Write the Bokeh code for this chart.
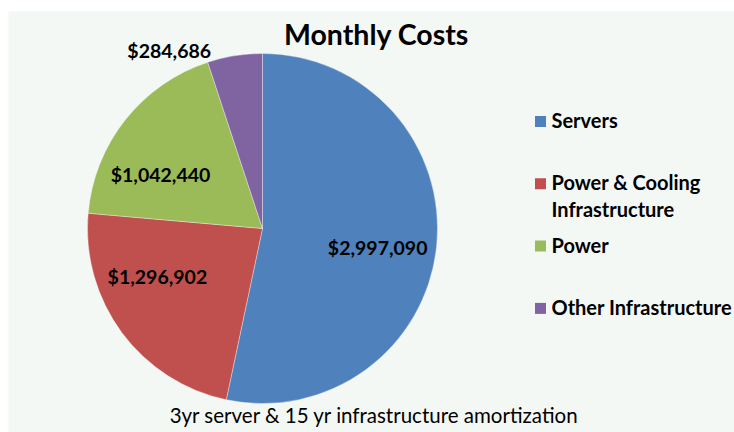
import math
from bokeh.plotting import figure
from bokeh.models import Range1d, ColumnDataSource
from bokeh.core.properties import value
from bokeh.embed import file_html
from bokeh.resources import INLINE

# ---- data ----
categories = ["Servers", "Power & Cooling\nInfrastructure", "Power", "Other Infrastructure"]
costs = [2997090, 1296902, 1042440, 284686]
colors = ["#4F81BD", "#C0504D", "#9BBB59", "#8064A2"]
title_text = "Monthly Costs"
subtitle_text = "3yr server & 15 yr infrastructure amortization"

# ---- layout constants (screen-like units, 1 unit = 1 px) ----
W, H = 734, 432
LEFT, TOP = 8, 11
FW, FH = W - LEFT, H - TOP
def sx(x): return x - LEFT
def sy(y): return FH - (y - TOP)

CX, CY, R = sx(262), sy(228), 175
label_r = [0.667, 0.66, 0.66, 1.15]
label_nudge = [-3.4, -12.0, 10.4, 18.5]   # degrees
FONT = "Lato"

p = figure(width=W, height=H, output_backend="svg", toolbar_location=None,
           x_range=Range1d(0, FW), y_range=Range1d(0, FH),
           min_border_left=LEFT, min_border_top=TOP, min_border_right=0, min_border_bottom=0)
p.axis.visible = False
p.grid.visible = False
p.outline_line_color = None
p.border_fill_color = "white"
p.background_fill_color = "#F4F8F4"

total = float(sum(costs))
starts, ends, mids = [], [], []
acc = 0.0
for v in costs:
    a0 = math.pi / 2 - acc / total * 2 * math.pi
    acc += v
    a1 = math.pi / 2 - acc / total * 2 * math.pi
    starts.append(a0); ends.append(a1); mids.append((a0 + a1) / 2)

src = ColumnDataSource(dict(start=starts, end=ends, color=colors))
p.wedge(x=CX, y=CY, radius=R, start_angle="start", end_angle="end", direction="clock",
        fill_color="color", line_color="white", line_width=0.5, line_alpha=0.7, source=src)

# data labels
lx, ly, lt = [], [], []
for i, v in enumerate(costs):
    a = mids[i] + math.radians(label_nudge[i])
    lx.append(CX + label_r[i] * R * math.cos(a))
    ly.append(CY + label_r[i] * R * math.sin(a))
    lt.append("${:,}".format(v))
p.text(x=lx, y=ly, text=lt, text_font=value(FONT), text_font_style="bold",
       text_font_size="19.5px", text_align="center", text_baseline="middle", text_color="black")

# legend
LEG_X, LEG_Y0, LEG_DY, LINE_H = sx(540), sy(120.5), 62.3, 27
sqx, sqy, tx, ty, tt = [], [], [], [], []
for i, c in enumerate(categories):
    y0 = LEG_Y0 - i * LEG_DY
    sqx.append(LEG_X); sqy.append(y0 - 0.5)
    for j, line in enumerate(c.split("\n")):
        tx.append(LEG_X + 11); ty.append(y0 + 1 - j * LINE_H); tt.append(line)
p.scatter(x=sqx, y=sqy, marker="square", size=11, fill_color=colors, line_color=None)
p.text(x=tx, y=ty, text=tt, text_font=value(FONT), text_font_style="bold",
       text_font_size="20px", text_align="left", text_baseline="middle", text_color="black")

# title and subtitle
p.text(x=[sx(376)], y=[sy(33.5)], text=[title_text], text_font=value(FONT), text_font_style="bold",
       text_font_size="28.5px", text_align="center", text_baseline="middle", text_color="black")
p.text(x=[sx(374)], y=[sy(414)], text=[subtitle_text], text_font=value(FONT),
       text_font_size="20.5px", text_align="center", text_baseline="middle", text_color="black")

open("out.html", "w").write(file_html(p, INLINE))
